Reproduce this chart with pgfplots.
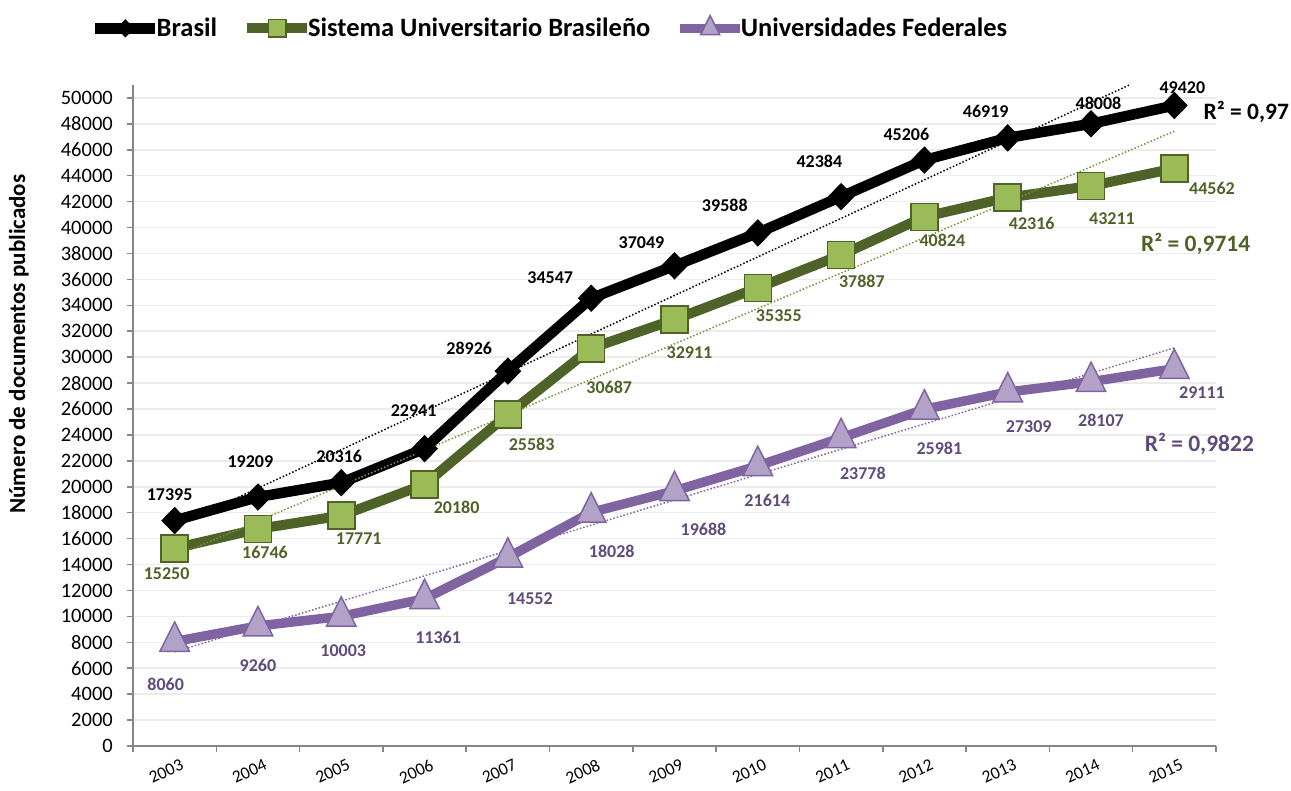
\documentclass[border=0pt]{standalone}
\usepackage{fontspec}
\setmainfont{Carlito}
\usepackage{pgfplots}
\pgfplotsset{compat=1.18}
\definecolor{gline}{HTML}{4F6228}
\definecolor{gfill}{HTML}{9BBB59}
\definecolor{pline}{HTML}{8064A2}
\definecolor{pfill}{HTML}{B3A2C7}
\definecolor{ptext}{HTML}{604A7B}
\definecolor{axgray}{HTML}{868686}
\definecolor{gridgray}{HTML}{ECECEC}
\definecolor{gtrend}{HTML}{77933C}
\tikzset{lbl/.style={font=\bfseries\fontsize{18}{21}\selectfont, inner sep=0pt}}
\begin{document}
\begin{tikzpicture}
\useasboundingbox (-133pt,-45pt) rectangle (1158pt,746pt);
\begin{axis}[
  at={(0pt,0pt)}, anchor=south west,
  scale only axis, width=1083pt, height=661pt,
  xmin=-0.5, xmax=12.5, ymin=0, ymax=51000,
  clip=false,
  axis x line*=bottom, axis y line*=left,
  axis line style={axgray, line width=1.5pt, -},
  xtick={0,...,12},
  xticklabels={2003,2004,2005,2006,2007,2008,2009,2010,2011,2012,2013,2014,2015},
  minor xtick={-0.5,0.5,...,12.5},
  ytick={0,2000,...,50000},
  scaled y ticks=false,
  tick align=outside,
  major tick length=6pt, minor tick length=6pt,
  tick style={axgray, line width=1.5pt},
  major x tick style={draw=none},
  ymajorgrids,
  major grid style={gridgray, line width=1.5pt},
  /pgf/number format/assume math mode=true,
  /pgf/number format/1000 sep={},
  yticklabel style={anchor=east, inner sep=0pt, xshift=-14pt, font=\fontsize{20.5}{24}\selectfont},
  xticklabel style={rotate=25, anchor=north east, inner sep=0pt, xshift=2pt, yshift=-8pt, font=\fontsize{17.5}{20}\selectfont},
  every axis y label/.style={at={(rel axis cs:-0.1053,0.608)}, rotate=90, anchor=center, font=\bfseries\fontsize{23}{27}\selectfont},
  ylabel={Número de documentos publicados},
  legend columns=3,
  legend style={at={(rel axis cs:-0.0397,1.0877)}, anchor=west, draw=none, fill=none, inner sep=0pt,
    font=\bfseries\fontsize{26.5}{30}\selectfont, nodes={inner sep=0pt},
    /tikz/every odd column/.append style={column sep=-4pt},
    /tikz/every even column/.append style={column sep=25pt}},
  legend image code/.code={\draw[mark repeat=2, mark phase=2, #1, every mark/.append style={scale=0.65}] plot coordinates {(0pt,0pt) (30pt,0pt) (60pt,0pt)};},
]
\addplot[black, line width=10.5pt, mark=diamond*, mark size=13pt, mark options={solid, fill=black, draw=black, line width=1pt, xscale=1.3}]
  coordinates {(0,17395) (1,19209) (2,20316) (3,22941) (4,28926) (5,34547) (6,37049) (7,39588) (8,42384) (9,45206) (10,46919) (11,48008) (12,49420)};
\addlegendentry{Brasil}
\addplot[gline, line width=10pt, mark=square*, mark size=13.5pt, mark options={solid, fill=gfill, draw=gline, line width=1.5pt}]
  coordinates {(0,15250) (1,16746) (2,17771) (3,20180) (4,25583) (5,30687) (6,32911) (7,35355) (8,37887) (9,40824) (10,42316) (11,43211) (12,44562)};
\addlegendentry{Sistema Universitario Brasileño}
\addplot[pline, line width=9.5pt, mark=triangle*, mark size=17pt, mark options={solid, fill=pfill, draw=pline, line width=1.5pt, yscale=1.15}]
  coordinates {(0,8060) (1,9260) (2,10003) (3,11361) (4,14552) (5,18028) (6,19688) (7,21614) (8,23778) (9,25981) (10,27309) (11,28107) (12,29111)};
\addlegendentry{Universidades Federales}
% linear trend lines
\addplot[forget plot, black, line width=1.5pt, dash pattern=on 1.5pt off 2pt] coordinates {(0,16917) (11.46,51000)};
\addplot[forget plot, gtrend, line width=1.5pt, dash pattern=on 1.5pt off 2pt] coordinates {(0,14618) (12,47426)};
\addplot[forget plot, pline, line width=1.5pt, dash pattern=on 1.5pt off 2pt] coordinates {(0,7263) (12,30714)};
% Brasil labels
\node[lbl, black, xshift=-5pt, yshift=25.5pt] at (axis cs:0,17395) {17395};
\node[lbl, black, xshift=-7.6pt, yshift=35pt] at (axis cs:1,19209) {19209};
\node[lbl, black, xshift=-2pt, yshift=26.6pt] at (axis cs:2,20316) {20316};
\node[lbl, black, xshift=-11pt, yshift=38.5pt] at (axis cs:3,22941) {22941};
\node[lbl, black, xshift=-38.7pt, yshift=22.7pt] at (axis cs:4,28926) {28926};
\node[lbl, black, xshift=-41pt, yshift=21pt] at (axis cs:5,34547) {34547};
\node[lbl, black, xshift=-33pt, yshift=23pt] at (axis cs:6,37049) {37049};
\node[lbl, black, xshift=-33pt, yshift=28pt] at (axis cs:7,39588) {39588};
\node[lbl, black, xshift=-21.7pt, yshift=35.8pt] at (axis cs:8,42384) {42384};
\node[lbl, black, xshift=-18pt, yshift=26pt] at (axis cs:9,45206) {45206};
\node[lbl, black, xshift=-22pt, yshift=26pt] at (axis cs:10,46919) {46919};
\node[lbl, black, xshift=7.5pt, yshift=20pt] at (axis cs:11,48008) {48008};
\node[lbl, black, xshift=8pt, yshift=18pt] at (axis cs:12,49420) {49420};
% Sistema labels
\node[lbl, gline, xshift=-8pt, yshift=-25.7pt] at (axis cs:0,15250) {15250};
\node[lbl, gline, xshift=7pt, yshift=-23.4pt] at (axis cs:1,16746) {16746};
\node[lbl, gline, xshift=17.5pt, yshift=-23.4pt] at (axis cs:2,17771) {17771};
\node[lbl, gline, xshift=32pt, yshift=-23pt] at (axis cs:3,20180) {20180};
\node[lbl, gline, xshift=23.7pt, yshift=-30pt] at (axis cs:4,25583) {25583};
\node[lbl, gline, xshift=18pt, yshift=-39pt] at (axis cs:5,30687) {30687};
\node[lbl, gline, xshift=15pt, yshift=-33.4pt] at (axis cs:6,32911) {32911};
\node[lbl, gline, xshift=21pt, yshift=-27.5pt] at (axis cs:7,35355) {35355};
\node[lbl, gline, xshift=20.7pt, yshift=-26.2pt] at (axis cs:8,37887) {37887};
\node[lbl, gline, xshift=18pt, yshift=-23.3pt] at (axis cs:9,40824) {40824};
\node[lbl, gline, xshift=24pt, yshift=-26pt] at (axis cs:10,42316) {42316};
\node[lbl, gline, xshift=21pt, yshift=-32.6pt] at (axis cs:11,43211) {43211};
\node[lbl, gline, xshift=37.7pt, yshift=-20pt] at (axis cs:12,44562) {44562};
% Universidades labels
\node[lbl, ptext, xshift=-9pt, yshift=-42.5pt] at (axis cs:0,8060) {8060};
\node[lbl, ptext, xshift=0pt, yshift=-39pt] at (axis cs:1,9260) {9260};
\node[lbl, ptext, xshift=2pt, yshift=-34pt] at (axis cs:2,10003) {10003};
\node[lbl, ptext, xshift=13.5pt, yshift=-38.6pt] at (axis cs:3,11361) {11361};
\node[lbl, ptext, xshift=22pt, yshift=-41pt] at (axis cs:4,14552) {14552};
\node[lbl, ptext, xshift=20.5pt, yshift=-38.8pt] at (axis cs:5,18028) {18028};
\node[lbl, ptext, xshift=29pt, yshift=-38.3pt] at (axis cs:6,19688) {19688};
\node[lbl, ptext, xshift=9.5pt, yshift=-35pt] at (axis cs:7,21614) {21614};
\node[lbl, ptext, xshift=21.7pt, yshift=-35.6pt] at (axis cs:8,23778) {23778};
\node[lbl, ptext, xshift=15pt, yshift=-39pt] at (axis cs:9,25981) {25981};
\node[lbl, ptext, xshift=21pt, yshift=-35pt] at (axis cs:10,27309) {27309};
\node[lbl, ptext, xshift=10pt, yshift=-39pt] at (axis cs:11,28107) {28107};
\node[lbl, ptext, xshift=27.7pt, yshift=-23.8pt] at (axis cs:12,29111) {29111};
% R squared
\node[inner sep=0pt, font=\bfseries\fontsize{23.5}{28}\selectfont, black] at (axis cs:12.864,48920) {R² = 0,97};
\node[inner sep=0pt, font=\bfseries\fontsize{23.5}{28}\selectfont, gline] at (axis cs:12.256,38770) {R² = 0,9714};
\node[inner sep=0pt, font=\bfseries\fontsize{23.5}{28}\selectfont, ptext] at (axis cs:12.30,23290) {R² = 0,9822};
\end{axis}
\end{tikzpicture}
\end{document}
